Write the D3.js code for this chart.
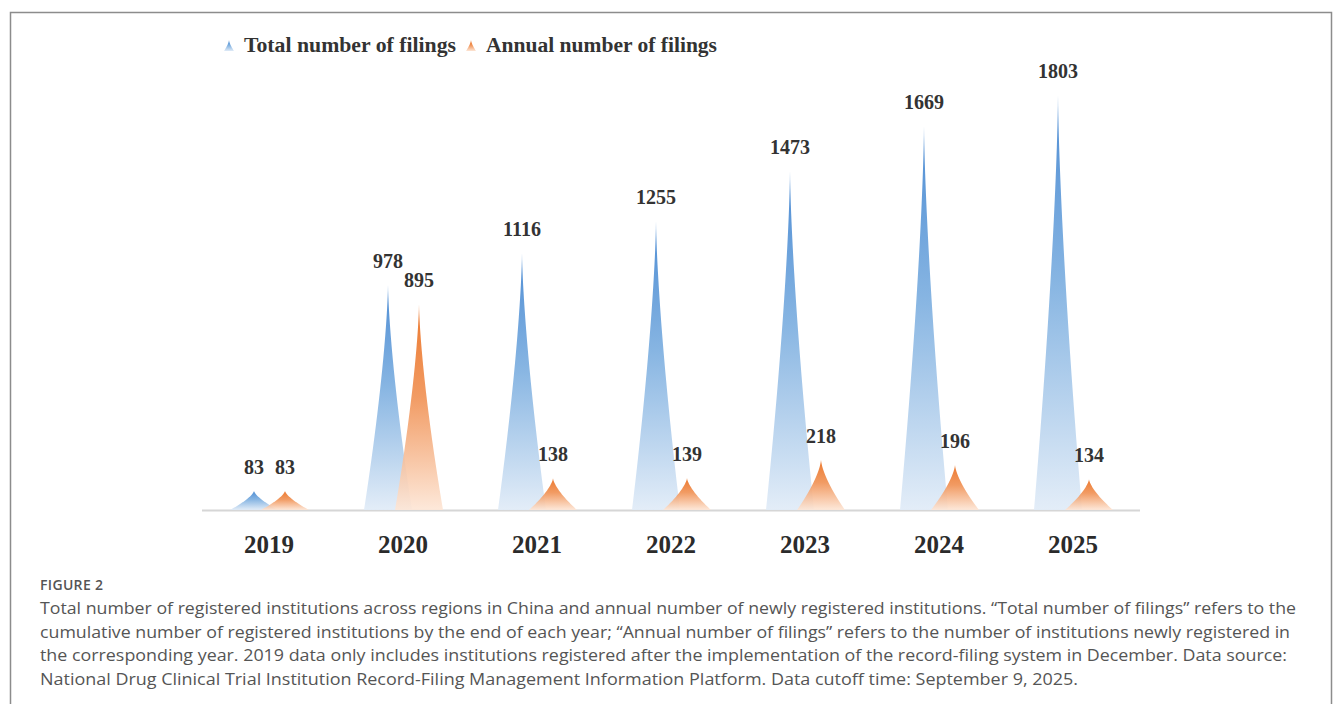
<!DOCTYPE html>
<html>
<head>
<meta charset="utf-8">
<script src="https://cdn.jsdelivr.net/npm/d3@7"></script>
<style>
  html, body { margin: 0; padding: 0; background: #ffffff; }
  svg { display: block; }
</style>
</head>
<body>
<svg id="chart" width="1333" height="704"></svg>
<script>
// Filings of drug clinical trial institutions, by year
const years = ["2019", "2020", "2021", "2022", "2023", "2024", "2025"];
const totalFilings = [83, 978, 1116, 1255, 1473, 1669, 1803];
const annualFilings = [83, 895, 138, 139, 218, 196, 134];
const seriesNames = ["Total number of filings", "Annual number of filings"];

const captionTitle = "FIGURE 2";
const captionLines = [
  "Total number of registered institutions across regions in China and annual number of newly registered institutions. \u201CTotal number of filings\u201D refers to the",
  "cumulative number of registered institutions by the end of each year; \u201CAnnual number of filings\u201D refers to the number of institutions newly registered in",
  "the corresponding year. 2019 data only includes institutions registered after the implementation of the record-filing system in December. Data source:",
  "National Drug Clinical Trial Institution Record-Filing Management Information Platform. Data cutoff time: September 9, 2025."
];

const svg = d3.select("#chart");
const serif = "'Times New Roman', 'Liberation Serif', serif";
const sans = "'Open Sans', 'Lato', 'Noto Sans', sans-serif";

// outer frame (open at the bottom edge)
svg.append("path")
  .attr("d", "M10.5,710 L10.5,12.5 L1331.5,12.5 L1331.5,710")
  .attr("fill", "none")
  .attr("stroke", "#8c8c8c")
  .attr("stroke-width", 1.5);

const baseY = 510;
const x = d3.scaleBand().domain(years).range([202, 1140]).padding(0);
const y = d3.scaleLinear().domain([0, 2000]).range([baseY, 50]);

// gradients for the spikes
const defs = svg.append("defs");
function grad(id, top, mid, bottom) {
  const g = defs.append("linearGradient").attr("id", id)
    .attr("x1", 0).attr("y1", 0).attr("x2", 0).attr("y2", 1);
  g.append("stop").attr("offset", "0%").attr("stop-color", top);
  g.append("stop").attr("offset", "45%").attr("stop-color", mid);
  g.append("stop").attr("offset", "100%").attr("stop-color", bottom);
}
grad("gBlue", "#3a80cf", "#7aaddf", "#e0ebf7");
grad("gOrange", "#ea6a18", "#f09052", "#fde6d6");

// spike outline with concave sides
const spikeHalf = 24;
const line = d3.line().curve(d3.curveLinear);
function spike(cx, top, bottom, half) {
  const n = 40, pts = [];
  const h = bottom - top;
  for (let i = 0; i <= n; i++) {
    const t = i / n;
    pts.push([cx - half * Math.pow(1 - t, 1.45), bottom - t * h]);
  }
  for (let i = n - 1; i >= 0; i--) {
    const t = i / n;
    pts.push([cx + half * Math.pow(1 - t, 1.45), bottom - t * h]);
  }
  return line(pts) + "Z";
}

// baseline
svg.append("line")
  .attr("x1", x.range()[0]).attr("x2", x.range()[1])
  .attr("y1", baseY + 0.5).attr("y2", baseY + 0.5)
  .attr("stroke", "#d6d6d6").attr("stroke-width", 2);

const series = [
  { values: totalFilings, offset: -15, fill: "url(#gBlue)" },
  { values: annualFilings, offset: 16, fill: "url(#gOrange)" }
];

series.forEach(s => {
  svg.append("g").selectAll("path")
    .data(years)
    .join("path")
    .attr("d", (d, i) => spike(x(d) + x.bandwidth() / 2 + s.offset, y(s.values[i]), y(0), spikeHalf))
    .attr("fill", s.fill)
    .attr("opacity", 0.9);
});

series.forEach(s => {
  svg.append("g").selectAll("text")
    .data(years)
    .join("text")
    .attr("x", d => x(d) + x.bandwidth() / 2 + s.offset)
    .attr("y", (d, i) => y(s.values[i]) - 17)
    .attr("text-anchor", "middle")
    .attr("font-family", serif)
    .attr("font-weight", "bold")
    .attr("font-size", 20)
    .attr("fill", "#333333")
    .text((d, i) => s.values[i]);
});

// year labels
svg.append("g").selectAll("text")
  .data(years)
  .join("text")
  .attr("x", d => x(d) + x.bandwidth() / 2)
  .attr("y", 553)
  .attr("text-anchor", "middle")
  .attr("font-family", serif)
  .attr("font-weight", "bold")
  .attr("font-size", 25)
  .attr("fill", "#2b2b2b")
  .text(d => d);

// legend
const legendItems = [
  { name: seriesNames[0], fill: "url(#gBlue)", mx: 229, tx: 244, w: 212 },
  { name: seriesNames[1], fill: "url(#gOrange)", mx: 471, tx: 486, w: 231 }
];
legendItems.forEach(it => {
  svg.append("path")
    .attr("d", spike(it.mx, 40, 51, 5))
    .attr("fill", it.fill);
  svg.append("text")
    .attr("x", it.tx).attr("y", 52)
    .attr("font-family", serif)
    .attr("font-weight", "bold")
    .attr("font-size", 20.5)
    .attr("fill", "#333333")
    .attr("textLength", it.w)
    .attr("lengthAdjust", "spacingAndGlyphs")
    .text(it.name);
});

// caption
svg.append("text")
  .attr("x", 40).attr("y", 590)
  .attr("font-family", sans)
  .attr("font-size", 14)
  .attr("font-weight", 600)
  .attr("fill", "#555555")
  .attr("textLength", 63)
  .attr("lengthAdjust", "spacing")
  .text(captionTitle);

const lineEnds = [1296, 1290, 1287, 1078];
captionLines.forEach((t, i) => {
  svg.append("text")
    .attr("x", 40).attr("y", 614 + i * 23.5)
    .attr("font-family", sans)
    .attr("font-size", 16)
    .attr("fill", "#555555")
    .attr("textLength", lineEnds[i] - 40)
    .attr("lengthAdjust", "spacingAndGlyphs")
    .text(t);
});
</script>
</body>
</html>
